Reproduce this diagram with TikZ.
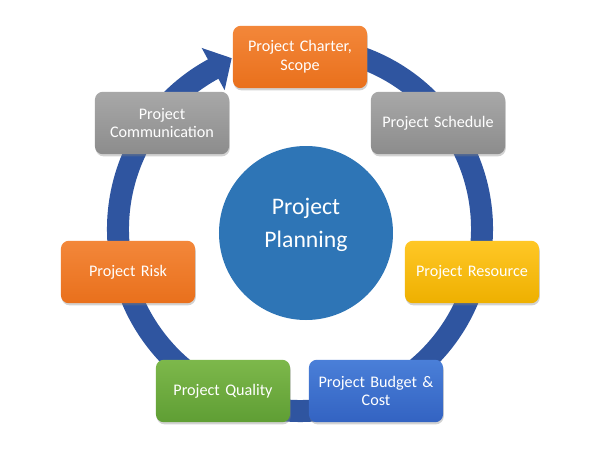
\documentclass[tikz,border=0pt]{standalone}
\usepackage{fontspec}
\setmainfont{Carlito}
\usetikzlibrary{shadows}
\definecolor{ringblue}{HTML}{2F55A0}
\definecolor{centerblue}{HTML}{2E75B6}
\definecolor{orangeT}{HTML}{F3873A}
\definecolor{orangeB}{HTML}{E9701C}
\definecolor{grayT}{HTML}{A8A8A8}
\definecolor{grayB}{HTML}{8C8C8C}
\definecolor{yellowT}{HTML}{FFC726}
\definecolor{yellowB}{HTML}{EEB000}
\definecolor{blueT}{HTML}{4A7FD8}
\definecolor{blueB}{HTML}{3363C2}
\definecolor{greenT}{HTML}{7DB84B}
\definecolor{greenB}{HTML}{5F9E34}
\tikzset{
  box/.style={rounded corners=8*0.02cm, minimum width=2.56cm, minimum height=1.25cm,
    text width=2.45cm, align=center, text=white, font=\fontsize{9.2}{10.6}\selectfont,
    drop shadow={shadow xshift=0.4pt, shadow yshift=-1.2pt, opacity=0.35}},
  orangebox/.style={box, top color=orangeT, bottom color=orangeB},
  graybox/.style={box, top color=grayT, bottom color=grayB},
  yellowbox/.style={box, top color=yellowT, bottom color=yellowB},
  bluebox/.style={box, top color=blueT, bottom color=blueB},
  greenbox/.style={box, top color=greenT, bottom color=greenB},
}
\begin{document}
\begin{tikzpicture}[x=0.02cm, y=-0.02cm]
\useasboundingbox (0,0) rectangle (600,450);
\fill[white] (0,0) rectangle (600,450);
% ring with arrowhead
\begin{scope}[y=0.02cm, shift={(300,-229)}]
  \draw[ringblue, line width=0.44cm] (80:182) arc[start angle=80, end angle=-242, radius=182];
  \fill[ringblue] (118.5:206) -- (111.8:184) -- (118.5:158) -- cycle;
\end{scope}
% center
\node[circle, fill=centerblue, minimum size=174*0.02cm] (center) at (306,233) {};
\node[text=white, align=center, font=\fontsize{13.5}{18.5}\selectfont] (centertext) at (306,225) {Project\\Planning};
% boxes
\node[orangebox] (charter) at (300,57) {Project Charter,\\Scope};
\node[graybox] (schedule) at (438,123) {Project Schedule};
\node[yellowbox] (resource) at (472,272) {Project Resource};
\node[bluebox] (budget) at (376,391) {Project Budget \&\\Cost};
\node[greenbox] (quality) at (223,391) {Project Quality};
\node[orangebox] (risk) at (128,272) {Project Risk};
\node[graybox] (comm) at (162,123) {Project\\Communication};
\end{tikzpicture}
\end{document}
